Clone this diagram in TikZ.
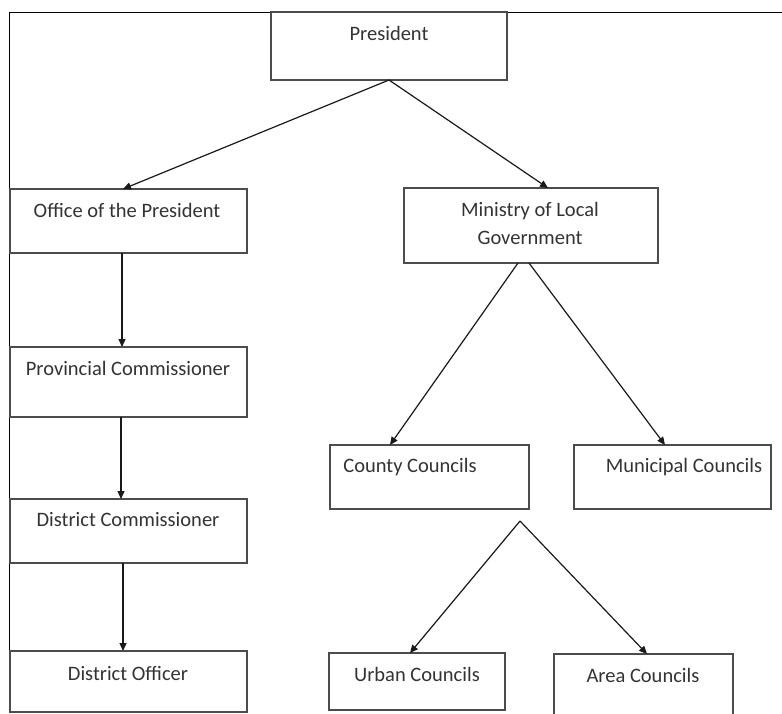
\documentclass[tikz,border=0pt]{standalone}
\usepackage{fontspec}
\setmainfont{Carlito}
\usetikzlibrary{arrows.meta}
\begin{document}
\begin{tikzpicture}[x=1pt,y=-1pt,
  box/.style={draw=black!70, line width=1.4pt, rectangle, inner sep=0pt, outer sep=0pt},
  lbl/.style={inner sep=0pt, font=\fontsize{20.5}{28}\selectfont, text=black!80, align=center},
  arr/.style={draw=black!90, line width=1.2pt, -{Triangle[length=8pt,width=7pt]}},
  ln/.style={draw=black!90, line width=1.2pt}]
\useasboundingbox (0,0) rectangle (782,713);
\begin{scope}
\clip (0,0) rectangle (782,713);
% frame
\draw[line width=1pt] (9,713) -- (9,12) -- (782,12);
% boxes
\node[box, minimum width=236pt, minimum height=68pt] (pres) at (389,46) {};
\node[box, minimum width=237pt, minimum height=64pt] (office) at (128.5,221) {};
\node[box, minimum width=254pt, minimum height=75pt] (min) at (531,225.5) {};
\node[box, minimum width=237pt, minimum height=70pt] (prov) at (128.5,382) {};
\node[box, minimum width=237pt, minimum height=64pt] (dc) at (128.5,531) {};
\node[box, minimum width=237pt, minimum height=61pt] (do) at (128.5,681.5) {};
\node[box, minimum width=199pt, minimum height=64pt] (county) at (429.5,477) {};
\node[box, minimum width=197pt, minimum height=64pt] (muni) at (672.5,477) {};
\node[box, minimum width=176pt, minimum height=57pt] (urban) at (417,681.5) {};
\node[box, minimum width=179pt, minimum height=66pt] (area) at (643.5,687) {};
% labels
\node[lbl] (presT) at (389,33) {President};
\node[lbl] (officeT) at (127,210) {Office of the President};
\node[lbl] (minT) at (530,223) {Ministry of Local\\Government};
\node[lbl] (provT) at (128,368) {Provincial Commissioner};
\node[lbl] (dcT) at (128,520) {District Commissioner};
\node[lbl] (doT) at (128,673) {District Officer};
\node[lbl] (countyT) at (410,467) {County Councils};
\node[lbl] (muniT) at (684,467) {Municipal Councils};
\node[lbl] (urbanT) at (417,674) {Urban Councils};
\node[lbl] (areaT) at (643,675) {Area Councils};
% connectors
\coordinate (split) at (520,521);
\draw[arr] (pres.south) -- ([xshift=-5.5pt]office.north);
\draw[arr] (pres.south) -- ([xshift=17pt]min.north);
\draw[arr] ([xshift=-6.5pt]office.south) -- ([xshift=-6.5pt]prov.north);
\draw[arr] ([xshift=-7.5pt]prov.south) -- ([xshift=-7.5pt]dc.north);
\draw[arr] ([xshift=-5.5pt]dc.south) -- ([xshift=-5.5pt]do.north);
\draw[arr] ([xshift=-13pt]min.south) -- ([xshift=-39.5pt]county.north);
\draw[arr] ([xshift=-2pt]min.south) -- ([xshift=-7.5pt]muni.north);
\draw[arr] (split) -- ([xshift=-7pt]urban.north);
\draw[arr] (split) -- ([xshift=3.5pt]area.north);
\end{scope}
\end{tikzpicture}
\end{document}
